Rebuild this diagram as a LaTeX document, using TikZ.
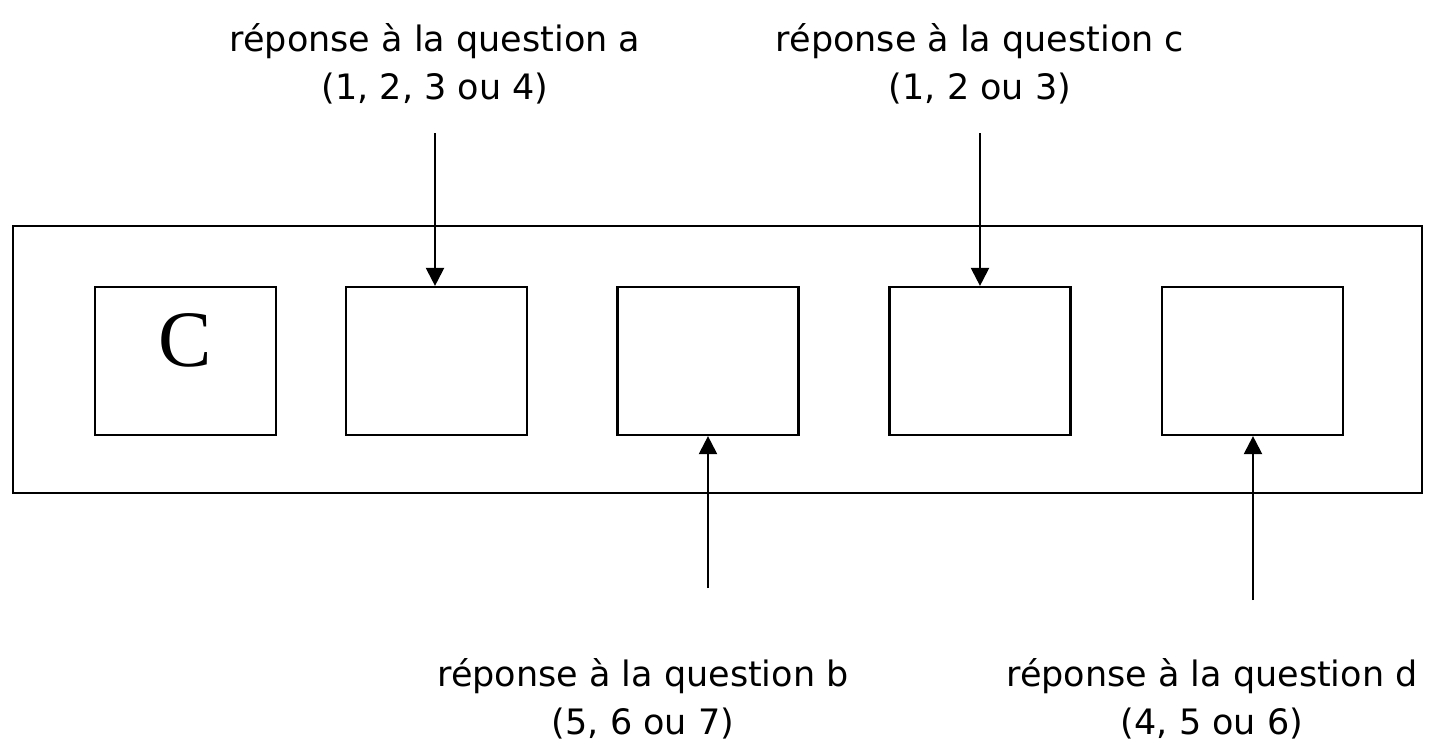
\documentclass[tikz,border=0pt]{standalone}
\usepackage{fontspec}
\setmainfont{DejaVu Sans}
\newfontfamily\serifC{Liberation Serif}
\usetikzlibrary{arrows.meta}
\begin{document}
\begin{tikzpicture}[x=1pt,y=-1pt,
  line width=2.2pt,
  cell/.style={draw,minimum width=181pt,minimum height=148pt,inner sep=0pt},
  lbl/.style={align=center,font=\fontsize{35}{48}\selectfont,inner sep=0pt},
  arr/.style={-{Triangle[length=18pt,width=18pt]}}]
\useasboundingbox (0,0) rectangle (1436,745);
\node[draw,minimum width=1409pt,minimum height=267pt,inner sep=0pt] (outer) at (717.5,359.5) {};
\node[cell] (b1) at (185.5,361) {};
\node[cell] (b2) at (436.5,361) {};
\node[cell] (b3) at (708,361) {};
\node[cell] (b4) at (980,361) {};
\node[cell] (b5) at (1252.5,361) {};
\node[font=\serifC\fontsize{80}{80}\selectfont,inner sep=0pt] (C) at (185,340) {C};
\node[lbl] (ta) at (435,64) {réponse à la question a\\(1, 2, 3 ou 4)};
\node[lbl] (tc) at (980,64) {réponse à la question c\\(1, 2 ou 3)};
\node[lbl] (tb) at (643,699) {réponse à la question b\\(5, 6 ou 7)};
\node[lbl] (td) at (1212,699) {réponse à la question d\\(4, 5 ou 6)};
\coordinate (sa) at (435,133);
\coordinate (sc) at (980,133);
\coordinate (sb) at (708,588);
\coordinate (sd) at (1253,600);
\draw[arr] (sa) -- (sa |- b2.north);
\draw[arr] (sc) -- (sc |- b4.north);
\draw[arr] (sb) -- (sb |- b3.south);
\draw[arr] (sd) -- (sd |- b5.south);
\end{tikzpicture}
\end{document}
